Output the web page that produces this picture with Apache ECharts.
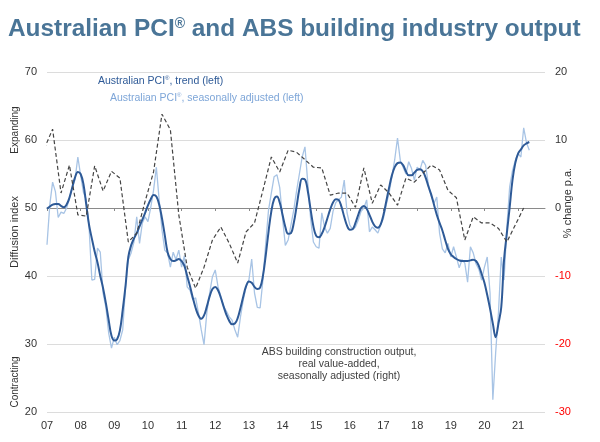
<!DOCTYPE html>
<html>
<head>
<meta charset="utf-8">
<script src="https://cdn.jsdelivr.net/npm/echarts@6/dist/echarts.min.js"></script>
<style>
  html, body { margin: 0; padding: 0; background: #fff; }
  #chart { width: 600px; height: 442px; }
</style>
</head>
<body>
<div id="chart"></div>
<script>
// Australian PCI (monthly, from Jan 2007) against ABS building output (quarterly).

const startYear = 2007;
const yearTicks = [2007, 2008, 2009, 2010, 2011, 2012, 2013, 2014, 2015, 2016, 2017, 2018, 2019, 2020, 2021];

// PCI trend, diffusion index, Jan 2007 .. May 2021
const pciTrend = [
  49.9, 50.2, 50.5, 50.6, 50.6, 50.3, 50.1, 50.5, 51.5, 53.0, 54.5, 55.3,
  55.0, 53.5, 50.5, 47.5, 45.5, 43.6, 42.0, 40.0, 38.2, 36.0, 33.5, 31.2,
  30.5, 30.7, 32.0, 35.0, 38.5, 42.8, 44.5, 45.5, 46.3, 47.3, 48.3, 49.3,
  50.4, 51.3, 51.9, 51.7, 50.5, 48.5, 46.0, 43.5, 42.5, 42.2, 42.3, 42.5,
  42.2, 41.5, 40.0, 38.5, 36.8, 35.3, 34.2, 33.7, 34.2, 35.5, 37.0, 38.1,
  38.4, 37.9, 36.8, 35.5, 34.3, 33.4, 32.9, 33.0, 33.8, 35.3, 37.0, 38.5,
  39.2, 39.0, 38.4, 38.1, 38.3, 40.0, 43.0, 46.5, 49.5, 51.3, 51.7, 50.8,
  49.0, 47.2, 46.2, 46.3, 47.8, 50.2, 52.8, 54.3, 54.2, 52.5, 49.8, 47.3,
  45.9, 45.7, 46.2, 47.2, 48.5, 49.8, 50.8, 51.3, 51.2, 50.2, 48.7, 47.4,
  46.8, 46.9, 47.8, 49.0, 50.0, 50.3, 49.9, 49.0, 48.0, 47.3, 47.1, 47.6,
  49.0, 51.0, 53.0, 54.8, 56.0, 56.6, 56.7, 56.3, 55.4, 54.8, 54.8, 55.2,
  55.6, 55.7, 55.4, 54.5, 53.2, 52.0, 50.5, 49.0, 47.8, 46.7, 45.3, 44.0,
  43.2, 42.8, 42.5, 42.3, 42.2, 42.2, 42.2, 42.3, 42.4, 42.2, 41.5, 40.3,
  39.0, 37.2, 35.2, 33.0, 31.0, 33.0, 35.4, 42.4, 46.3, 50.1, 54.1, 56.6,
  58.0, 58.6, 59.2, 59.5, 59.7
];

// PCI seasonally adjusted, diffusion index, Jan 2007 .. May 2021
const pciSeasAdj = [
  44.6, 50.5, 53.8, 52.4, 48.6, 49.4, 49.2, 50.0, 51.4, 53.0, 54.2, 57.5,
  54.8, 52.3, 51.2, 47.2, 39.4, 39.5, 44.1, 43.5, 37.5, 35.4, 31.6, 29.4,
  31.0, 29.9, 30.5, 32.1, 38.4, 42.4, 43.4, 45.0, 48.7, 44.8, 47.8, 48.7,
  48.0, 50.1, 52.6, 56.0, 51.2, 46.8, 43.8, 43.4, 41.3, 43.5, 42.4, 43.8,
  41.3, 43.0, 38.4, 37.9, 36.5, 36.8, 34.6, 32.1, 29.9, 34.6, 37.5, 39.9,
  40.9, 38.4, 37.0, 35.5, 34.8, 34.0, 33.5, 32.1, 31.0, 34.0, 36.5, 38.4,
  39.4, 42.5, 37.5, 35.4, 35.3, 39.4, 44.8, 49.7, 52.2, 54.6, 54.9, 53.0,
  48.5, 44.5, 45.3, 47.5, 49.7, 52.5, 55.0, 57.5, 59.0, 53.7, 48.5, 45.0,
  44.3, 44.1, 49.3, 47.2, 46.3, 47.0, 49.5, 50.8, 51.2, 51.6, 54.1, 49.3,
  47.5, 46.8, 47.2, 48.2, 49.5, 50.0, 51.2, 46.5, 47.2, 46.8, 46.3, 47.5,
  48.5, 50.5, 52.2, 54.6, 57.1, 60.3, 57.0, 56.0, 55.0, 56.8, 55.8, 54.1,
  56.0, 55.6, 57.0, 56.3, 53.5, 51.8, 50.7, 51.6, 46.3, 44.0, 43.4, 44.8,
  42.8, 44.3, 42.8, 41.2, 42.4, 41.9, 39.1, 44.3, 43.4, 41.8, 41.0, 39.4,
  41.3, 42.8, 37.5, 21.8, 28.7, 34.6, 42.8, 39.4, 47.2, 53.1, 55.5, 57.0,
  58.0, 57.5, 61.8, 59.6, 58.5
];

// ABS building construction output, real value-added, % change p.a., 2007 Q1 .. 2021 Q2
const absOutput = [
   8.7, 11.6,  2.2,  6.3, -1.0, -1.2,  6.2,  2.5,  5.4,  4.4, -5.0, -3.7,
   1.0,  5.3, 13.8, 11.5, -1.0, -8.7,-11.8, -8.7, -4.7, -2.8, -5.2, -8.1,
  -3.5, -2.2,  2.6,  7.5,  5.3,  8.5,  8.2,  7.1,  6.0,  5.9,  1.9,  2.2,
   2.2,  0.1,  5.9,  0.7,  3.4,  2.2,  0.4,  4.4,  3.8,  5.1,  6.3,  5.6,
   2.6,  1.5, -4.7, -1.3, -2.2, -2.2, -3.0, -5.0, -2.5,  0.0
];
// quarterly points sit one month ahead of the quarter start, as in the source chart
const absFirstX = startYear - 1 / 12;

const font = "'Liberation Sans', Arial, sans-serif";
const trendColor = "#2e5a97";
const seasColor = "#a8c4e5";
const seasLabelColor = "#7ea6d8";

const monthly = (values) => values.map((v, i) => [startYear + i / 12, v]);
const quarterly = (values) => values.map((v, i) => [absFirstX + i / 4, v]);

function supText(before, after, size, color) {
  // Text with a raised, smaller registered-trademark sign.
  return {
    text: `{a|${before}}{s|®}{a|${after}}`,
    rich: {
      a: { fontSize: size, fontFamily: font, fill: color, color: color },
      s: { fontSize: Math.round(size * 0.6), fontFamily: font, fill: color, color: color, verticalAlign: "top" },
    },
  };
}

const chart = echarts.init(document.getElementById("chart"));

const titleRich = supText("Australian PCI", " and ABS building industry output", 24.4, "#4a7597");
titleRich.rich.a.fontWeight = "bold";
titleRich.rich.s.fontWeight = "bold";
titleRich.rich.s.fontSize = 14;

chart.setOption({
  animation: false,
  backgroundColor: "#fff",
  grid: { left: 47, right: 55, top: 72, bottom: 30 },
  xAxis: [
    {
      type: "value",
      min: 2007,
      max: 2021.8,
      position: "bottom",
      axisLine: { show: false, onZero: false },
      axisTick: { show: false },
      splitLine: { show: false },
      axisLabel: {
        customValues: yearTicks,
        formatter: (v) => String(v).slice(2),
        margin: 8,
        fontSize: 11,
        fontFamily: font,
        color: "#333",
      },
    },
    {
      type: "value",
      min: 2007,
      max: 2021.8,
      position: "bottom",
      axisLine: { show: true, onZero: true, onZeroAxisIndex: 1, lineStyle: { color: "#8a8a8a", width: 1 } },
      axisTick: { show: true, customValues: yearTicks, length: 3, lineStyle: { color: "#8a8a8a" } },
      axisLabel: { show: false },
      splitLine: { show: false },
    },
  ],
  yAxis: [
    {
      type: "value",
      min: 20,
      max: 70,
      interval: 10,
      position: "left",
      axisLine: { show: false },
      axisTick: { show: false },
      axisLabel: { margin: 10, fontSize: 11, fontFamily: font, color: "#333" },
      splitLine: { lineStyle: { color: "#dcdcdc", width: 1 } },
    },
    {
      type: "value",
      min: -30,
      max: 20,
      interval: 10,
      position: "right",
      axisLine: { show: false },
      axisTick: { show: false },
      splitLine: { show: false },
      axisLabel: {
        margin: 10,
        fontSize: 11,
        fontFamily: font,
        color: (v) => (Number(v) < 0 ? "#ff0000" : "#333"),
      },
    },
  ],
  series: [
    {
      name: "Australian PCI, seasonally adjusted",
      type: "line",
      xAxisIndex: 0,
      yAxisIndex: 0,
      data: monthly(pciSeasAdj),
      showSymbol: false,
      lineStyle: { color: seasColor, width: 1.3 },
      z: 2,
    },
    {
      name: "Australian PCI, trend",
      type: "line",
      xAxisIndex: 0,
      yAxisIndex: 0,
      data: monthly(pciTrend),
      showSymbol: false,
      smooth: 0.4,
      lineStyle: { color: trendColor, width: 2 },
      z: 3,
    },
    {
      name: "ABS building construction output",
      type: "line",
      xAxisIndex: 0,
      yAxisIndex: 1,
      data: quarterly(absOutput),
      showSymbol: false,
      clip: true,
      lineStyle: { color: "#444", width: 1.2, type: [4, 2.5] },
      z: 4,
    },
  ],
  graphic: [
    {
      type: "text",
      x: 8,
      y: 29,
      style: Object.assign(titleRich, { textAlign: "left", textVerticalAlign: "middle" }),
    },
    {
      type: "text",
      x: 98,
      y: 81,
      style: Object.assign(supText("Australian PCI", ", trend (left)", 10.5, trendColor), {
        textAlign: "left",
        textVerticalAlign: "middle",
      }),
    },
    {
      type: "text",
      x: 110,
      y: 98,
      style: Object.assign(supText("Australian PCI", ", seasonally adjusted (left)", 10.5, seasLabelColor), {
        textAlign: "left",
        textVerticalAlign: "middle",
      }),
    },
    {
      type: "text",
      x: 339,
      y: 364,
      style: {
        text: "ABS building construction output,\nreal value-added,\nseasonally adjusted (right)",
        font: `10.5px ${font}`,
        fill: "#404040",
        lineHeight: 12,
        textAlign: "center",
        textVerticalAlign: "middle",
      },
    },
    {
      type: "text",
      x: 15,
      y: 232,
      rotation: Math.PI / 2,
      style: { text: "Diffusion index", font: `11px ${font}`, fill: "#333", textAlign: "center", textVerticalAlign: "middle" },
    },
    {
      type: "text",
      x: 15,
      y: 130,
      rotation: Math.PI / 2,
      style: { text: "Expanding", font: `10px ${font}`, fill: "#333", textAlign: "center", textVerticalAlign: "middle" },
    },
    {
      type: "text",
      x: 15,
      y: 382,
      rotation: Math.PI / 2,
      style: { text: "Contracting", font: `10px ${font}`, fill: "#333", textAlign: "center", textVerticalAlign: "middle" },
    },
    {
      type: "text",
      x: 568,
      y: 203,
      rotation: Math.PI / 2,
      style: { text: "% change p.a.", font: `11px ${font}`, fill: "#333", textAlign: "center", textVerticalAlign: "middle" },
    },
  ],
});

window.addEventListener("resize", () => chart.resize());
</script>
</body>
</html>
